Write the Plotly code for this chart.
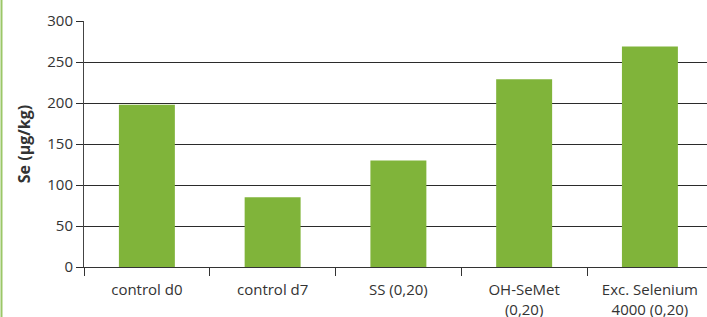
import plotly.graph_objects as go

categories = ["control d0", "control d7", "SS (0,20)", "OH-SeMet<br>(0,20)", "Exc. Selenium<br>4000 (0,20)"]
se_values = [198, 85, 130, 229, 269]
y_ticks = [0, 50, 100, 150, 200, 250, 300]

W, H = 707, 317
L, R, T, B = 84, 0, 21, 50

fig = go.Figure()
fig.add_trace(go.Bar(x=categories, y=se_values, marker_color="#80b43a",
                     marker_line_width=0, width=0.445, hoverinfo="skip"))

fig.update_layout(
    width=W, height=H,
    margin=dict(l=L, r=R, t=T, b=B, autoexpand=False),
    plot_bgcolor="white", paper_bgcolor="white",
    showlegend=False,
    font=dict(family="Open Sans", size=14, color="#333333"),
    bargap=0.555,
)
fig.update_xaxes(
    range=[-0.5, 4.454], showline=True, linecolor="#333333", linewidth=1,
    ticks="outside", tickson="boundaries", ticklen=8, tickcolor="#333333",
    tickfont=dict(size=15, color="#333333"), showgrid=False, fixedrange=True,
    automargin=False, ticklabelstandoff=9,
)
fig.update_yaxes(
    range=[0, 300], tickvals=y_ticks, showline=True, linecolor="#444444", linewidth=1,
    ticks="outside", ticklen=7, tickcolor="#2b2b2b",
    showgrid=True, gridcolor="#2b2b2b", gridwidth=1.2, zeroline=False,
    tickfont=dict(size=15, color="#333333"), automargin=False, fixedrange=True,
    title=dict(text="<b>Se (µg/kg)</b>", font=dict(size=16, color="#333333"), standoff=12),
)
fig.add_shape(type="line", xref="paper", yref="paper",
              x0=(1.5 - L) / (W - L - R), x1=(1.5 - L) / (W - L - R),
              y0=-B / (H - T - B), y1=1 + T / (H - T - B),
              line=dict(color="#9bc768", width=2))

fig.write_html("out.html", config={"displayModeBar": False},
               post_script="document.body.style.margin='0';document.body.style.padding='0';")
